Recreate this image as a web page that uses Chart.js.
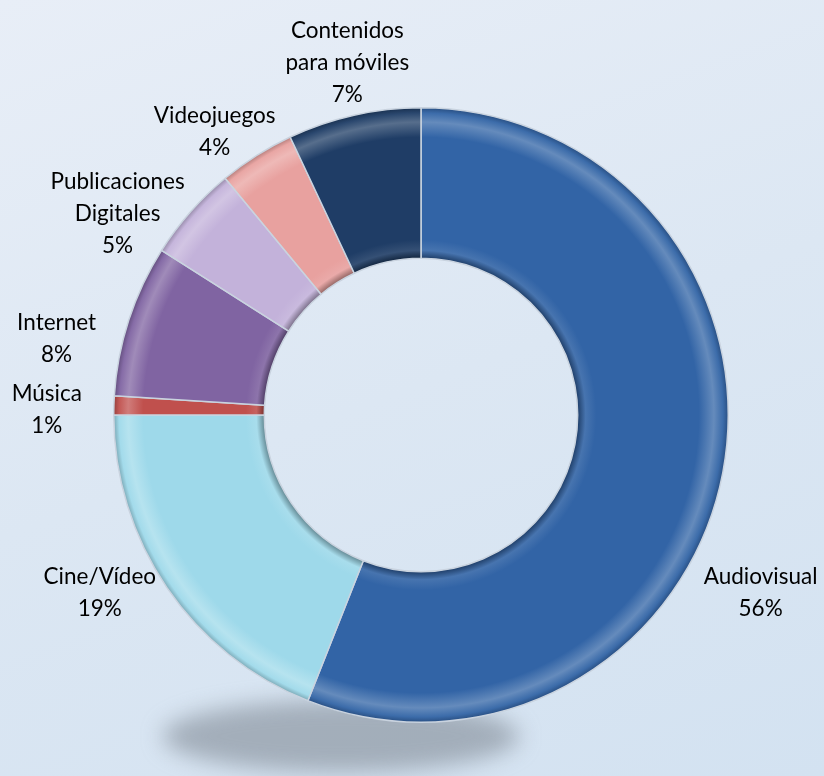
<!DOCTYPE html>
<html>
<head>
<meta charset="utf-8">
<script src="https://cdn.jsdelivr.net/npm/chart.js@4/dist/chart.umd.min.js"></script>
<style>
  html, body { margin: 0; padding: 0; }
  body { width: 824px; height: 776px; background: linear-gradient(160deg, #e8eef7 0%, #dce7f3 50%, #d3e2f1 100%); }
  #wrap { width: 824px; height: 776px; }
</style>
</head>
<body>
<div id="wrap"><canvas id="donut"></canvas></div>
<script>
const categories = ['Audiovisual', 'Cine/Vídeo', 'Música', 'Internet', 'Publicaciones Digitales', 'Videojuegos', 'Contenidos para móviles']
const shares = [56, 19, 1, 8, 5, 4, 7]
const colors = ['#3264a6', '#9ed9ea', '#c0504d', '#8064a2', '#c3b2da', '#e8a19f', '#1f3d66']

// nudges for the outside labels (degrees, px beyond rim)
const labelShift = [16.8, 5.2, -1, -6.2, -7.8, -3.7, 0.8]
const labelGap = [76, 60, 67, 65, 57, 43, 53]

function shade(hex, amt) {
    let n = parseInt(hex.slice(1), 16)
    let r = n >> 16, g = (n >> 8) & 255, b = n & 255
    const f = v => Math.max(0, Math.min(255, Math.round(amt > 0 ? v + (255 - v) * amt : v * (1 + amt))))
    return 'rgb(' + f(r) + ',' + f(g) + ',' + f(b) + ')'
}

function ringFill(context) {
    const chart = context.chart
    const base = colors[context.dataIndex]
    const area = chart.chartArea
    if (!area) return base
    const cx = (area.left + area.right) / 2
    const cy = (area.top + area.bottom) / 2
    const outer = Math.min(area.right - area.left, area.bottom - area.top) / 2
    const inner = outer * 0.51
    const g = chart.ctx.createRadialGradient(cx, cy, inner, cx, cy, outer)
    g.addColorStop(0, shade(base, -0.35))
    g.addColorStop(0.05, shade(base, 0.1))
    g.addColorStop(0.12, base)
    g.addColorStop(0.8, base)
    g.addColorStop(0.9, shade(base, 0.25))
    g.addColorStop(0.96, shade(base, 0.05))
    g.addColorStop(1, shade(base, -0.25))
    return g
}

const shadowPlugin = {
    id: 'shadow',
    beforeDatasetsDraw(chart) {
        const arc = chart.getDatasetMeta(0).data[0]
        if (!arc) return
        const ctx = chart.ctx
        ctx.save()
        ctx.filter = 'blur(11px)'
        ctx.fillStyle = 'rgba(120,130,140,0.55)'
        ctx.beginPath()
        ctx.ellipse(arc.x - 80, arc.y + arc.outerRadius + 14, arc.outerRadius * 0.58, 36, 0, 0, Math.PI * 2)
        ctx.fill()
        ctx.restore()
    }
}

const labelPlugin = {
    id: 'outLabels',
    afterDatasetsDraw(chart) {
        const ctx = chart.ctx
        const total = shares.reduce((a, b) => a + b, 0)
        ctx.save()
        ctx.font = '22.5px Lato, "Open Sans", sans-serif'
        ctx.fillStyle = '#000'
        ctx.textAlign = 'center'
        ctx.textBaseline = 'middle'
        chart.getDatasetMeta(0).data.forEach((arc, i) => {
            const p = arc.getProps(['x', 'y', 'startAngle', 'endAngle', 'outerRadius'], true)
            const mid = (p.startAngle + p.endAngle) / 2 + labelShift[i] * Math.PI / 180
            const d = p.outerRadius + labelGap[i]
            const tx = p.x + Math.cos(mid) * d
            const ty = p.y + Math.sin(mid) * d
            let name = categories[i]
            let lines = name.length > 12 ? [name.slice(0, name.indexOf(' ')), name.slice(name.indexOf(' ') + 1)] : [name]
            lines.push(Math.round(shares[i] / total * 100) + '%')
            const lh = 32
            lines.forEach((t, k) => {
                ctx.fillText(t, tx, ty + (k - (lines.length - 1) / 2) * lh)
            })
        })
        ctx.restore()
    }
}

new Chart(document.getElementById('donut'), {
    type: 'doughnut',
    data: {
        labels: categories,
        datasets: [{
            data: shares,
            backgroundColor: ringFill,
            borderColor: '#c9d3df',
            borderWidth: 1.5
        }]
    },
    options: {
        responsive: true,
        maintainAspectRatio: false,
        animation: false,
        cutout: '51%',
        layout: { padding: { top: 107, bottom: 53, left: 113, right: 95 } },
        plugins: { legend: { display: false }, tooltip: { enabled: false } }
    },
    plugins: [shadowPlugin, labelPlugin]
});
</script>
</body>
</html>
